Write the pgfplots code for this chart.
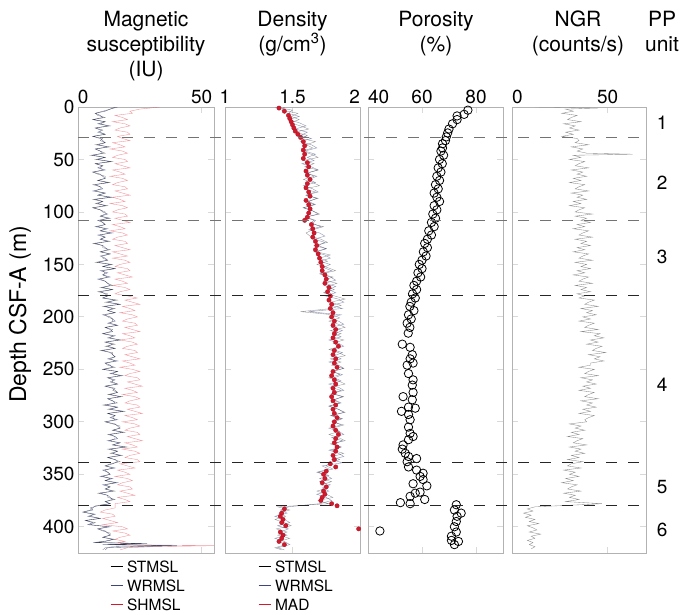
\documentclass[border=0pt]{standalone}
\usepackage{fontspec}
\setmainfont{TeX Gyre Heros}
\usepackage{pgfplots}
\pgfplotsset{compat=1.18}
\usepackage{pgfplotstable}
\definecolor{wr}{RGB}{60,70,125}
\definecolor{sh}{RGB}{228,70,80}
\definecolor{mad}{RGB}{210,25,45}

\pgfplotstableread{
d st wr sh
0 15 16 33
2 13 13 25
4 10 11 21
6 7 7 22
8 8 9 15
10 11 10 18
12 6 6 20
14 11 11 14
16 9 8 19
18 12 13 21
20 7 7 17
22 9 10 15
24 9 8 20
26 11 11 21
28 6 6 16
30 10 9 18
32 9 10 21
34 11 11 14
36 7 8 17
38 13 12 19
40 7 7 13
42 9 9 18
44 11 10 20
46 5 6 16
48 11 11 14
50 7 8 19
52 14 13 20
54 7 7 15
56 10 10 18
58 9 8 21
60 10 11 14
62 6 6 17
64 8 9 19
66 11 10 13
68 11 11 18
70 8 8 20
72 13 12 16
74 6 7 14
76 9 9 19
78 9 10 20
80 7 6 15
82 11 11 18
84 8 8 21
86 14 13 14
88 6 7 17
90 10 10 19
92 7 8 13
94 12 11 18
96 6 6 20
98 9 9 16
100 11 10 14
102 11 12 19
104 9 9 20
106 12 13 15
108 9 8 18
110 10 10 21
112 11 11 14
114 8 7 17
116 11 12 19
118 9 9 13
120 13 14 18
122 9 8 20
124 11 11 16
126 9 9 14
128 13 12 19
130 6 7 20
132 10 10 15
134 10 11 18
136 13 12 21
138 9 9 14
140 13 13 17
142 10 9 20
144 10 11 14
146 12 12 19
148 7 8 21
150 14 13 17
152 10 10 15
154 15 15 20
156 10 9 21
158 11 12 16
160 10 10 19
162 12 13 22
164 9 8 15
166 11 11 18
168 12 12 20
170 14 13 14
172 9 10 19
174 14 14 21
176 8 9 17
178 12 11 15
180 12 12 20
182 10 10 24
184 16 15 19
186 11 12 22
188 17 17 25
190 10 11 18
192 15 14 21
194 12 12 23
196 15 15 17
198 11 10 22
200 12 13 24
202 14 14 20
204 14 15 18
206 13 12 23
208 16 16 24
210 11 11 19
212 14 13 22
214 13 14 25
216 10 10 18
218 14 15 21
220 13 12 23
222 17 17 17
224 11 11 22
226 15 14 24
228 11 12 20
230 15 15 18
232 9 10 23
234 14 13 24
236 14 14 19
238 15 15 22
240 13 12 25
242 15 16 18
244 11 11 21
246 12 13 23
248 15 14 17
250 10 10 22
252 16 16 25
254 14 13 21
256 17 18 19
258 12 12 24
260 14 15 25
262 14 13 20
264 16 16 23
266 11 11 26
268 15 14 19
270 14 15 22
272 16 16 24
274 12 13 18
276 18 17 23
278 12 12 25
280 14 14 21
282 16 15 19
284 10 11 24
286 16 16 25
288 12 13 20
290 19 18 23
292 12 12 26
294 15 15 19
296 14 13 22
298 15 16 24
300 11 11 18
302 14 15 23
304 17 16 25
306 17 17 21
308 14 14 19
310 19 18 24
312 12 13 25
314 15 15 20
316 15 16 23
318 13 12 26
320 17 17 19
322 14 14 22
324 20 19 24
326 12 13 18
328 16 16 23
330 13 14 25
332 18 17 21
334 12 12 19
336 15 15 24
338 17 16 25
340 13 14 17
342 11 11 20
344 14 15 23
346 11 10 16
348 12 12 19
350 13 13 21
352 10 9 15
354 13 14 20
356 11 11 22
358 15 16 18
360 11 10 16
362 13 13 21
364 11 11 22
366 15 14 17
368 8 9 20
370 12 12 23
372 12 13 16
374 15 14 19
376 11 11 21
378 13 13 15
380 7 8 15
382 6 5 15
384 5 6 11
386 2 2 9
388 6 7 14
390 5 4 15
392 9 9 10
394 3 3 13
396 7 6 16
398 5 4 10
400 12 13 18
402 8 8 20
404 10 11 14
406 13 12 19
408 13 13 21
410 10 10 17
412 15 14 15
414 10 11 19
415 7 6 16
416 26 28 20
417 12 10 18
418 38 40 55
419 14 24 30
420 11 12 20
422 10 11 17
}\msdata

\pgfplotstableread{
d st wr
0 1.44 1.37
3 1.42 1.50
6 1.54 1.47
9 1.49 1.55
12 1.55 1.47
15 1.48 1.55
18 1.56 1.60
21 1.62 1.52
24 1.52 1.61
27 1.61 1.56
30 1.57 1.64
33 1.67 1.56
36 1.60 1.64
39 1.65 1.68
42 1.57 1.59
45 1.64 1.67
48 1.69 1.61
51 1.58 1.66
54 1.66 1.57
57 1.59 1.64
60 1.69 1.69
63 1.61 1.60
66 1.66 1.68
69 1.58 1.62
72 1.65 1.67
75 1.70 1.58
78 1.59 1.65
81 1.67 1.69
84 1.60 1.60
87 1.69 1.68
90 1.61 1.62
93 1.66 1.67
96 1.58 1.58
99 1.65 1.65
102 1.70 1.69
105 1.59 1.60
108 1.66 1.67
111 1.63 1.65
114 1.73 1.71
117 1.65 1.62
120 1.60 1.70
123 1.63 1.74
126 1.71 1.66
129 1.76 1.74
132 1.66 1.69
135 1.75 1.75
138 1.68 1.66
141 1.78 1.74
144 1.70 1.78
147 1.76 1.70
150 1.68 1.78
153 1.76 1.73
156 1.82 1.79
159 1.71 1.70
162 1.80 1.78
165 1.73 1.82
168 1.83 1.74
171 1.75 1.82
174 1.81 1.77
177 1.73 1.82
180 1.81 1.74
183 1.89 1.84
186 1.78 1.88
189 1.86 1.79
192 1.79 1.87
195 1.56 1.62
198 1.80 1.86
201 1.85 1.77
204 1.77 1.84
207 1.84 1.88
210 1.89 1.79
213 1.78 1.87
216 1.86 1.81
219 1.79 1.86
222 1.88 1.77
225 1.80 1.84
228 1.85 1.88
231 1.77 1.79
234 1.84 1.87
237 1.89 1.81
240 1.78 1.86
243 1.86 1.77
246 1.79 1.84
249 1.88 1.88
252 1.80 1.79
255 1.85 1.87
258 1.77 1.81
261 1.84 1.86
264 1.89 1.77
267 1.78 1.84
270 1.86 1.88
273 1.79 1.79
276 1.88 1.87
279 1.80 1.81
282 1.85 1.86
285 1.77 1.77
288 1.84 1.84
291 1.89 1.88
294 1.78 1.79
297 1.86 1.87
300 1.79 1.81
303 1.88 1.86
306 1.80 1.77
309 1.85 1.84
312 1.77 1.88
315 1.84 1.79
318 1.89 1.87
321 1.78 1.81
324 1.86 1.86
327 1.79 1.77
330 1.88 1.84
333 1.80 1.88
336 1.85 1.79
339 1.77 1.87
342 1.75 1.72
345 1.80 1.77
348 1.69 1.68
351 1.77 1.75
354 1.70 1.79
357 1.79 1.70
360 1.71 1.78
363 1.76 1.72
366 1.68 1.77
369 1.75 1.68
372 1.80 1.75
375 1.69 1.79
378 1.77 1.70
381 1.39 1.47
384 1.48 1.41
387 1.40 1.46
390 1.45 1.37
393 1.37 1.44
396 1.44 1.48
399 1.49 1.39
402 1.38 1.47
405 1.46 1.41
408 1.39 1.46
411 1.48 1.37
414 1.40 1.44
417 1.45 1.48
420 1.37 1.39
422 1.42 1.44
}\dendata

\pgfplotstableread{
d v
1 1.40
4 1.44
8 1.47
11 1.48
14 1.49
17 1.50
20 1.51
23 1.52
26 1.54
29 1.56
33 1.58
37 1.59
41 1.58
45 1.59
49 1.58
53 1.61
57 1.62
61 1.60
65 1.61
69 1.63
73 1.61
77 1.60
81 1.62
85 1.63
89 1.60
93 1.62
97 1.63
101 1.62
105 1.61
108 1.59
112 1.64
116 1.65
120 1.66
124 1.65
128 1.67
132 1.68
136 1.67
140 1.69
144 1.70
148 1.71
152 1.72
156 1.72
160 1.74
164 1.75
168 1.74
172 1.77
176 1.76
180 1.78
184 1.77
188 1.79
192 1.78
196 1.80
200 1.79
204 1.81
208 1.80
212 1.82
216 1.81
220 1.80
224 1.82
228 1.84
232 1.81
236 1.80
240 1.82
244 1.81
248 1.83
252 1.80
256 1.79
260 1.81
264 1.82
268 1.80
272 1.81
276 1.79
280 1.80
284 1.82
288 1.80
292 1.81
296 1.83
300 1.81
304 1.80
308 1.82
312 1.84
316 1.82
320 1.81
324 1.83
328 1.82
332 1.80
336 1.81
340 1.78
343 1.82
347 1.75
350 1.73
354 1.74
358 1.72
362 1.75
366 1.73
369 1.74
372 1.72
375 1.71
378 1.79
380 1.83
383 1.44
387 1.42
390 1.41
393 1.43
396 1.42
399 1.45
402 1.99
405 1.41
408 1.43
411 1.42
414 1.40
417 1.44
}\maddata

\pgfplotstableread{
d v
3 77.0
7 75.6
8.5 73.0
12 73.0
16 71.3
21 70.0
24.7 69.5
28.5 69.0
32 68.7
35 67.6
39 67.6
42 67.0
46 68.0
50 66.5
54 67.5
58 66.0
62 67.0
66 65.5
70 66.5
74 65.0
78 66.0
82 64.5
86 65.5
90 66.5
94 64.5
98 65.5
102 64.0
106 65.0
110 63.5
114 64.5
118 62.5
122 63.5
126 62.0
130 61.0
134 62.0
138 60.5
142 61.5
146 60.0
150 59.0
154 60.0
158 58.5
162 59.5
166 58.0
170 57.0
174 58.0
178 56.5
182 57.5
186 56.0
190 55.5
194 57.0
198 55.0
202 56.0
206 54.5
210 55.5
215.5 54.9
226 52.7
229 55.6
236 56.4
240 55.6
246 54.5
244 56.7
254 55.0
260 56.7
265 56.4
272 56.7
276 53.0
279 56.4
286 55.0
287 57.5
290 52.4
293 55.0
298 55.6
305 55.0
311 55.6
314 56.7
317 55.0
322 53.0
326 52.7
330 53.8
333 55.0
335 58.0
338 54.5
343 55.0
346 58.0
349 60.4
352 59.3
355 60.4
359 56.7
361 61.8
367 59.3
368 57.5
371 55.6
374 61.0
377 52.0
378 55.6
379 72.7
384 72.0
387 74.5
390 73.0
395 72.7
400 72.0
404 44.4
405 72.7
409 70.9
413 70.9
414 73.5
417 72.0
}\pordata

\pgfplotstableread{
d v
0 12
1 45
2 28
4 32
6 26
8 34
10 31
12 29
14 36
16 27
18 33
20 30
22 35
24 28
26 32
28 26
30 34
32 35
34 33
36 40
38 31
40 37
42 34
44 39
45 63
46 32
48 36
50 30
52 38
54 35
56 33
58 40
60 31
62 37
64 34
66 39
68 32
70 36
72 30
74 38
76 35
78 33
80 40
82 31
84 37
86 34
88 39
90 32
92 36
94 30
96 38
98 35
100 33
102 42
104 33
106 39
108 36
110 41
112 34
114 38
116 32
118 40
120 37
122 35
124 42
126 33
128 39
130 36
132 41
134 34
136 38
138 32
140 40
142 37
144 35
146 42
148 33
150 39
152 36
154 41
156 34
158 38
160 32
162 40
164 37
166 35
168 42
170 33
172 39
174 36
176 41
178 34
180 38
182 35
184 43
186 40
188 38
190 45
192 36
194 42
196 39
198 44
200 37
202 41
204 35
206 43
208 40
210 38
212 45
214 36
216 46
218 43
220 48
222 41
224 45
226 39
228 47
230 44
232 42
234 49
236 40
238 46
240 43
242 48
244 41
246 41
248 35
250 43
252 40
254 38
256 45
258 36
260 42
262 39
264 44
266 37
268 41
270 35
272 43
274 40
276 38
278 45
280 36
282 42
284 39
286 44
288 37
290 41
292 35
294 43
296 40
298 38
300 39
302 30
304 36
306 33
308 38
310 31
312 35
314 29
316 37
318 34
320 32
322 39
324 30
326 36
328 33
330 38
332 31
334 35
336 29
338 37
340 31
342 29
344 36
346 27
348 33
350 30
352 35
354 28
356 32
358 26
360 34
362 31
364 29
366 36
368 27
370 33
372 30
374 35
376 28
378 47
379 36
381 12
383 8
385 11
387 6
389 10
391 7
393 12
395 9
397 14
399 8
401 11
403 13
405 9
407 15
409 10
411 12
413 8
415 11
417 9
419 12
421 10
}\ngrdata

\pgfplotsset{
  panel/.style={
    scale only axis, height=446pt, anchor=north west,
    y dir=reverse, ymin=0, ymax=425,
    ytick={0,50,...,400}, yticklabels={},
    axis line style={draw=black!30, line width=0.8pt},
    tick style={draw=black!15, line width=0.8pt},
    major tick length=6pt, tick align=inside,
    xticklabel pos=upper,
    ticklabel style={font=\fontsize{19}{21}\selectfont},
    /pgf/number format/assume math mode=true,
    clip mode=individual,
    legend style={draw=none, fill=none, inner sep=0pt, row sep=8pt, column sep=4pt,
      nodes={inner sep=0pt, text height=11pt, text depth=0pt, font=\fontsize{15.5}{17}\selectfont},
      anchor=north west},
    legend cell align=left,
    legend image code/.code={\draw[#1, line width=0.9pt] (0pt,0pt) -- (12pt,0pt);},
  },
}

\begin{document}
\begin{tikzpicture}
\useasboundingbox (0pt,0pt) rectangle (682pt,614pt);

% Magnetic susceptibility
\begin{axis}[panel, at={(78pt,507pt)}, width=136pt,
  xmin=0, xmax=55, xtick={0,50}, xticklabels={\hphantom{0}0,50},
  yticklabels={0,50,100,150,200,250,300,350,400},
  ylabel={Depth CSF-A (m)},
  ylabel style={font=\fontsize{23}{25}\selectfont, at={(axis description cs:-0.426,0.535)}, anchor=center},
  legend style={at={(axis description cs:0.235,0)}, yshift=-8pt},
]
\addplot[sh, line width=0.4pt, opacity=0.55, forget plot] table[x=sh,y=d]{\msdata};
\addplot[wr, line width=0.4pt, opacity=0.75, forget plot] table[x=wr,y=d]{\msdata};
\addplot[black, line width=0.3pt, opacity=0.5, forget plot] table[x=st,y=d]{\msdata};
\addlegendimage{black}
\addlegendimage{wr}
\addlegendimage{mad}
\legend{STMSL,WRMSL,SHMSL}
\end{axis}

% Density
\begin{axis}[panel, at={(225pt,507pt)}, width=135pt,
  xmin=1, xmax=2, xtick={1,1.5,2}, xticklabels={1,1.5,2\hphantom{2}},
  legend style={at={(axis description cs:0.244,0)}, yshift=-8pt},
]
\addplot[wr!80!white, line width=0.4pt, opacity=0.7, forget plot] table[x=wr,y=d]{\dendata};
\addplot[black, line width=0.3pt, opacity=0.45, forget plot] table[x=st,y=d]{\dendata};
\addplot[only marks, mark=*, mark size=2.2pt, mark options={fill=mad, draw=mad!80!black, line width=0.3pt}, forget plot] table[x=v,y=d]{\maddata};
\addlegendimage{black}
\addlegendimage{wr}
\addlegendimage{mad}
\legend{STMSL,WRMSL,MAD}
\end{axis}

% Porosity
\begin{axis}[panel, at={(368pt,507pt)}, width=135pt,
  xmin=40, xmax=90, xtick={40,60,80}, xticklabels={\hphantom{40}40,60,80},
]
\addplot[only marks, mark=o, mark size=4.2pt, mark options={draw=black, fill=white, line width=0.8pt}] table[x=v,y=d]{\pordata};
\end{axis}

% NGR
\begin{axis}[panel, at={(512pt,507pt)}, width=134pt,
  xmin=0, xmax=70, xtick={0,50}, xticklabels={\hphantom{0}0,50},
]
\addplot[black!45, line width=0.35pt] table[x=v,y=d]{\ngrdata};
\draw[black!55, line width=1.2pt, dash pattern=on 11pt off 11pt] (axis cs:-226.7,29) -- (axis cs:70,29);
\draw[black!55, line width=1.2pt, dash pattern=on 11pt off 11pt] (axis cs:-226.7,108) -- (axis cs:70,108);
\draw[black!85, line width=1.2pt, dash pattern=on 11pt off 11pt] (axis cs:-226.7,180) -- (axis cs:70,180);
\draw[black!85, line width=1.2pt, dash pattern=on 11pt off 11pt] (axis cs:-226.7,339) -- (axis cs:70,339);
\draw[black!85, line width=1.2pt, dash pattern=on 11pt off 11pt] (axis cs:-226.7,380) -- (axis cs:70,380);
\begin{scope}[font=\fontsize{19}{21}\selectfont]
\node at (axis cs:78.5,15.2) {1};
\node at (axis cs:78.5,72) {2};
\node at (axis cs:78.5,143) {3};
\node at (axis cs:78.5,265) {4};
\node at (axis cs:78.5,362) {5};
\node at (axis cs:78.5,403) {6};
\end{scope}
\end{axis}

\begin{scope}[every node/.style={anchor=north, align=center, inner sep=0pt, font=\fontsize{21}{25}\selectfont}]
\node at (146pt,603pt) {Magnetic\\susceptibility\\(IU)};
\node at (292.5pt,603pt) {Density\\(g/cm\textsuperscript{3})};
\node at (436pt,603pt) {Porosity\\(\%)};
\node at (578pt,603pt) {NGR\\(counts/s)};
\node at (662pt,603pt) {PP\\unit};
\end{scope}
\end{tikzpicture}
\end{document}
